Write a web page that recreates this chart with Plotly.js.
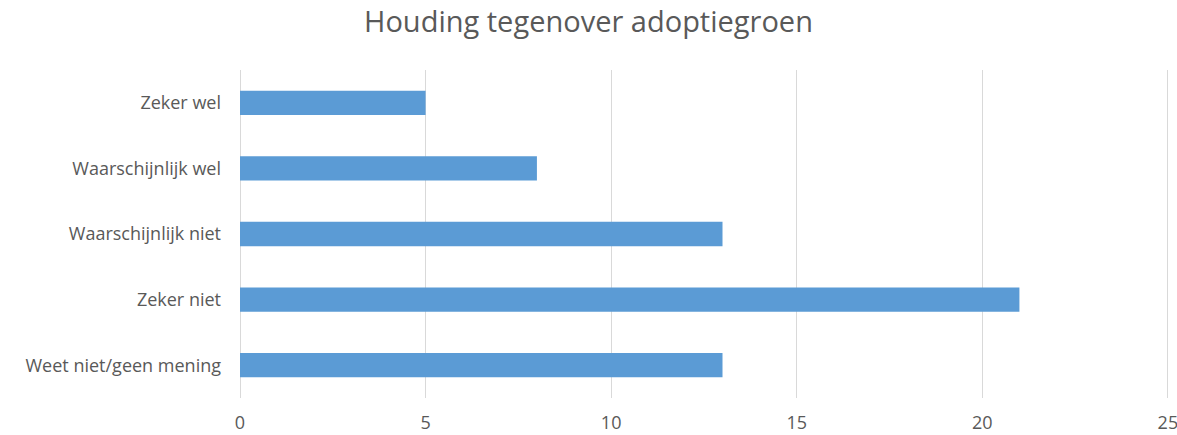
<!DOCTYPE html>
<html><head><meta charset="utf-8">
<script src="https://cdn.plot.ly/plotly-3.0.1.min.js"></script>
<style>body{margin:0;background:#fff}#c{width:1177px;height:435px}</style>
</head><body><div id="c"></div>
<script>
const categories = ["Zeker wel", "Waarschijnlijk wel", "Waarschijnlijk niet", "Zeker niet", "Weet niet/geen mening"];
const values = [5, 8, 13, 21, 13];
const xTicks = [0, 5, 10, 15, 20, 25];

Plotly.newPlot('c', [{
  type: 'bar', orientation: 'h',
  x: values, y: categories,
  marker: {color: '#5B9BD5'},
  hoverinfo: 'none'
}], {
  width: 1177, height: 435,
  margin: {l: 240, r: 8, t: 70, b: 37},
  paper_bgcolor: '#fff', plot_bgcolor: '#fff',
  font: {family: 'Open Sans, sans-serif', color: '#595959'},
  title: {text: 'Houding tegenover adoptiegroen', x: 0.5, xanchor: 'center', y: 0.95, yanchor: 'middle',
          font: {size: 29, color: '#595959', family: 'Open Sans, sans-serif'}},
  bargap: 0.63,
  showlegend: false,
  xaxis: {range: [0, 25.03], tickvals: xTicks, showgrid: true, gridcolor: '#D9D9D9', gridwidth: 1,
          zeroline: true, zerolinecolor: '#D9D9D9', zerolinewidth: 1, showline: false, ticks: '',
          tickfont: {size: 18, color: '#595959'}, ticklabelstandoff: 12, ticklabeloverflow: 'allow',
          automargin: false, fixedrange: true},
  yaxis: {autorange: 'reversed', type: 'category', showgrid: false, zeroline: false, showline: false,
          ticks: '', tickfont: {size: 18, color: '#595959'}, ticklabelstandoff: 18, automargin: false}
}, {displayModeBar: false, staticPlot: true});
</script></body></html>
